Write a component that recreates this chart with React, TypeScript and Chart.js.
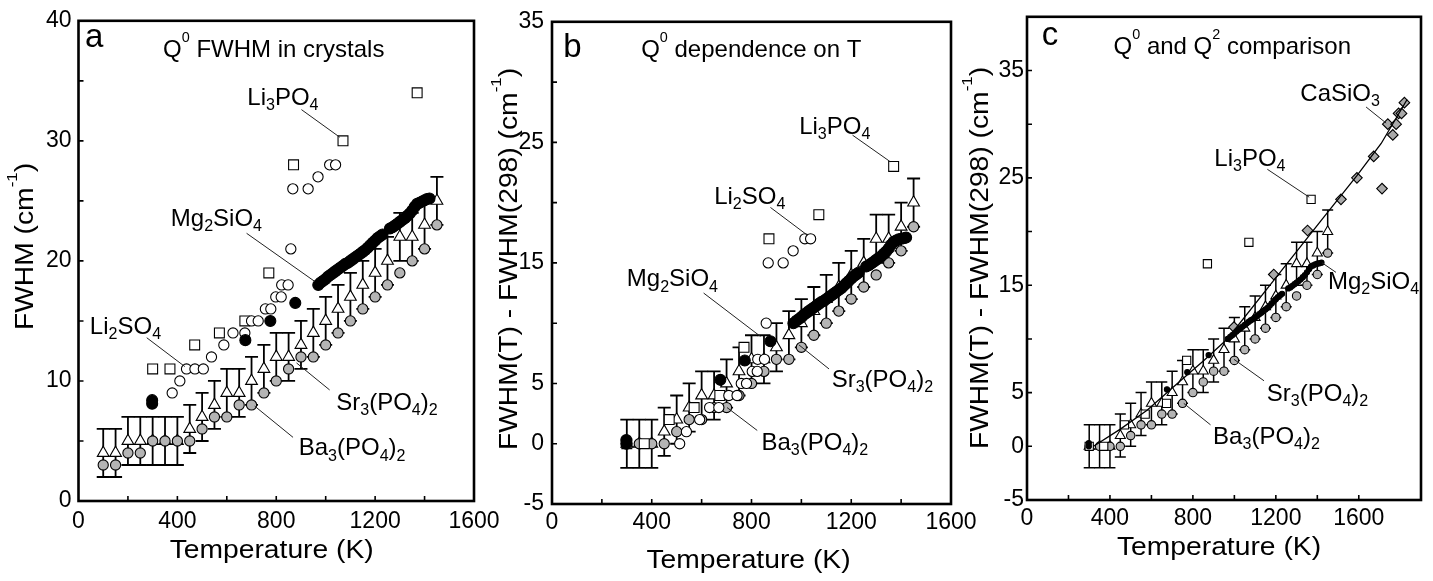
import { useEffect, useRef } from 'react';
import { Chart, registerables } from 'chart.js';

Chart.register(...registerables);

const FONT = '"Liberation Sans", Arial, Helvetica, sans-serif';
const PAGE_W = 1433;
const PAGE_H = 581;

// ================= DATA =================
// Panel a : absolute FWHM (cm-1)
const T_SR_BA = [100, 150, 200, 250, 300, 350, 400, 450, 500, 550, 600, 650, 700, 750, 800, 850, 900, 950, 1000, 1050, 1100, 1150, 1200, 1250, 1300, 1350, 1400, 1450];
const A_SR3PO42 = [4, 4, 5, 5, 5, 5, 5, 6, 7, 8, 9, 9, 10, 11, 12, 12, 13, 14, 15, 16, 17, 18, 19, 20, 22, 22, 23, 25];
const A_BA3PO42 = [3, 3, 4, 4, 5, 5, 5, 5, 6, 7, 7, 8, 8, 9, 10, 11, 12, 12, 13, 14, 15, 16, 17, 18, 19, 20, 21, 23];
const SR_ERROR = 2;

const T_LI3PO4 = [300, 370, 470, 570, 673, 770, 870, 1070, 1370];
const A_LI3PO4 = [11, 11, 13, 14, 15, 19, 28, 30, 34];

const A_T_LI2SO4 = [379, 410, 437, 471, 505, 538, 588, 625, 673, 700, 727, 756, 778, 798, 820, 822, 848, 859, 867, 929, 969, 1016, 1040];
const A_LI2SO4 = [9, 10, 11, 11, 11, 12, 13, 14, 14, 15, 15, 16, 16, 17, 17, 18, 18, 21, 26, 26, 27, 28, 28];

const A_T_MG2SIO4 = [298, 298, 675, 776, 877, 970, 980, 990, 1000, 1010, 1020, 1030, 1040, 1050, 1060, 1070, 1080, 1090, 1100, 1110, 1120, 1130, 1140, 1150, 1160, 1170, 1180, 1190, 1200, 1210, 1220, 1230, 1260, 1270, 1280, 1290, 1300, 1310, 1320, 1330, 1340, 1350, 1360, 1370, 1380, 1390, 1400, 1410, 1420];
const A_MG2SIO4 = [8.1, 8.4, 13.4, 15.0, 16.5, 18.0, 18.2, 18.35, 18.5, 18.7, 18.85, 19.0, 19.15, 19.3, 19.45, 19.6, 19.75, 19.85, 20.0, 20.15, 20.3, 20.45, 20.6, 20.75, 20.9, 21.1, 21.3, 21.5, 21.7, 21.9, 22.05, 22.2, 22.7, 22.8, 22.95, 23.1, 23.25, 23.4, 23.55, 23.75, 23.95, 24.2, 24.5, 24.75, 24.85, 24.95, 25.05, 25.15, 25.2];

// Panels b and c : FWHM(T) - FWHM(298)
const T_SR_BA_REL = [300, 350, 400, 450, 500, 550, 600, 650, 700, 750, 800, 850, 900, 950, 1000, 1050, 1100, 1150, 1200, 1250, 1300, 1350, 1400, 1450];
const B_SR3PO42 = [0, 0, 0, 1, 2, 3, 4, 4, 5, 6, 7, 7, 8, 9, 10, 11, 12, 13, 14, 15, 17, 17, 18, 20];
const B_BA3PO42 = [0, 0, 0, 0, 1, 2, 2, 3, 3, 4, 5, 6, 7, 7, 8, 9, 10, 11, 12, 13, 14, 15, 16, 18];
const B_LI3PO4 = [0, 0, 2, 3, 4, 8, 17, 19, 23];

const B_T_LI2SO4 = [512, 539, 592, 632, 669, 709, 742, 759, 780, 803, 823, 825, 852, 859, 867, 927, 967, 1014, 1037];
const B_LI2SO4 = [0, 1, 2, 3, 3, 4, 4, 5, 5, 6, 6, 7, 7, 10, 15, 15, 16, 17, 17];

const B_T_MG2SIO4 = [298, 298, 675, 773, 876, 968, 980, 990, 1000, 1010, 1020, 1030, 1040, 1050, 1060, 1070, 1080, 1090, 1100, 1110, 1120, 1130, 1140, 1150, 1160, 1170, 1180, 1190, 1200, 1210, 1220, 1230, 1260, 1270, 1280, 1290, 1300, 1310, 1320, 1330, 1340, 1350, 1360, 1370, 1380, 1390, 1400, 1410, 1420];
const B_MG2SIO4 = [0, 0.3, 5.3, 6.9, 8.5, 10.0, 10.2, 10.35, 10.5, 10.7, 10.85, 11.0, 11.15, 11.3, 11.45, 11.6, 11.75, 11.85, 12.0, 12.15, 12.3, 12.45, 12.6, 12.75, 12.9, 13.1, 13.3, 13.5, 13.7, 13.9, 14.05, 14.2, 14.7, 14.8, 14.95, 15.1, 15.25, 15.4, 15.55, 15.75, 15.95, 16.2, 16.5, 16.75, 16.85, 16.95, 17.0, 17.05, 17.1];

// Panel c : Q2 (CaSiO3) and its trend line
const C_T_CASIO3 = [998, 1190, 1353, 1514, 1591, 1672, 1712, 1740, 1764, 1780, 1792, 1806, 1820];
const C_CASIO3 = [11.1, 16.0, 20.1, 23.0, 25.0, 27.0, 24.0, 30.0, 29.0, 30.0, 31.0, 31.0, 32.0];
const C_T_FIT = [321, 450, 579, 740, 853, 966, 1188, 1417, 1591, 1708, 1833];
const C_FIT = [0, 1.6, 3.35, 6.1, 8.0, 10.0, 15.4, 21.0, 25.2, 28.2, 32.3];

// ================= HELPERS =================
type Seg = { t: string; k: 0 | 1 | 2 };
function parseRich(s: string): Seg[] {
  const segs: Seg[] = [];
  const re = /([_^])\{([^}]*)\}/g;
  let last = 0;
  let m: RegExpExecArray | null;
  while ((m = re.exec(s))) {
    if (m.index > last) segs.push({ t: s.slice(last, m.index), k: 0 });
    segs.push({ t: m[2], k: m[1] === '_' ? 1 : 2 });
    last = re.lastIndex;
  }
  if (last < s.length) segs.push({ t: s.slice(last), k: 0 });
  return segs;
}

function drawRich(ctx: CanvasRenderingContext2D, s: string, x: number, y: number, size: number, align: string, stretch: number, rot: number) {
  const segs = parseRich(s);
  const sz = (k: number) => (k === 0 ? size : k === 1 ? size * 0.67 : size * 0.6);
  let total = 0;
  const widths = segs.map((seg) => {
    ctx.font = `${sz(seg.k)}px ${FONT}`;
    const w = ctx.measureText(seg.t).width;
    total += w;
    return w;
  });
  ctx.save();
  ctx.translate(x, y);
  if (rot) ctx.rotate(rot);
  ctx.scale(stretch, 1);
  ctx.textAlign = 'left';
  ctx.textBaseline = 'alphabetic';
  ctx.fillStyle = '#000';
  let cx = align === 'center' ? -total / 2 : align === 'right' ? -total : 0;
  segs.forEach((seg, i) => {
    ctx.font = `${sz(seg.k)}px ${FONT}`;
    const dy = seg.k === 1 ? size * 0.22 : seg.k === 2 ? -size * 0.64 : 0;
    ctx.fillText(seg.t, cx, dy);
    cx += widths[i];
  });
  ctx.restore();
}

const pts = (xs: number[], ys: number[]) => xs.map((x, i) => ({ x, y: ys[i] }));

function marker(label: string, xs: number[], ys: number[], style: string, r: number, fill: string, order: number, extra: any = {}) {
  return {
    label,
    data: pts(xs, ys),
    pointStyle: style,
    pointRadius: r,
    pointBackgroundColor: fill,
    pointBorderColor: '#000',
    pointBorderWidth: 1.1,
    backgroundColor: fill,
    borderColor: '#000',
    order,
    ...extra,
  };
}

interface TextItem { text: string; x: number; y: number; size: number; align: string }
interface PanelSpec {
  id: string;
  area: { left: number; top: number; right: number; bottom: number };
  xMax: number; yMin: number; yMax: number;
  yShow: (v: number) => boolean;
  yTickPad: number; xTickPad: number;
  errWidth: number; capHalf: number;
  datasets: any[];
  texts: TextItem[];
  leaders: number[][];
  yTitle: string; yTitleX: number; yTitleY: number;
  xTitleX: number; xTitleY: number;
}

function decorPlugin(spec: PanelSpec) {
  return {
    id: 'decor_' + spec.id,
    beforeDatasetsDraw(chart: any) {
      const ctx: CanvasRenderingContext2D = chart.ctx;
      const xs = chart.scales.x;
      const ys = chart.scales.y;
      ctx.save();
      ctx.strokeStyle = '#000';
      ctx.lineWidth = spec.errWidth;
      chart.data.datasets.forEach((ds: any) => {
        if (!ds.errorBar) return;
        ds.data.forEach((p: { x: number; y: number }) => {
          const px = xs.getPixelForValue(p.x);
          const yt = ys.getPixelForValue(p.y + ds.errorBar);
          const yb = ys.getPixelForValue(p.y - ds.errorBar);
          const c = spec.capHalf;
          ctx.beginPath();
          ctx.moveTo(px, yt); ctx.lineTo(px, yb);
          ctx.moveTo(px - c, yt); ctx.lineTo(px + c, yt);
          ctx.moveTo(px - c, yb); ctx.lineTo(px + c, yb);
          ctx.stroke();
        });
      });
      ctx.restore();
    },
    afterDraw(chart: any) {
      const ctx: CanvasRenderingContext2D = chart.ctx;
      const xs = chart.scales.x;
      const ys = chart.scales.y;
      const { left, right, top, bottom } = chart.chartArea;
      ctx.save();
      ctx.strokeStyle = '#000';
      ctx.lineWidth = 1.6;
      ctx.beginPath();
      xs.ticks.forEach((t: any) => {
        const v = t.value;
        if (v % 200 !== 0 || v <= xs.min || v >= xs.max) return;
        const px = xs.getPixelForValue(v);
        ctx.moveTo(px, bottom); ctx.lineTo(px, bottom - 5);
      });
      ys.ticks.forEach((t: any) => {
        const v = t.value;
        if (v <= ys.min || v >= ys.max) return;
        const py = ys.getPixelForValue(v);
        ctx.moveTo(left, py); ctx.lineTo(left + 5, py);
      });
      ctx.stroke();
      ctx.lineWidth = 2.6;
      ctx.strokeRect(left, top, right - left, bottom - top);
      ctx.lineWidth = 1;
      ctx.strokeStyle = '#222';
      spec.leaders.forEach((l) => {
        ctx.beginPath();
        ctx.moveTo(xs.getPixelForValue(l[0]), ys.getPixelForValue(l[1]));
        ctx.lineTo(xs.getPixelForValue(l[2]), ys.getPixelForValue(l[3]));
        ctx.stroke();
      });
      spec.texts.forEach((t) => {
        drawRich(ctx, t.text, xs.getPixelForValue(t.x), ys.getPixelForValue(t.y), t.size, t.align, 1, 0);
      });
      drawRich(ctx, 'Temperature (K)', spec.xTitleX, spec.xTitleY, 25, 'center', 1.13, 0);
      drawRich(ctx, spec.yTitle, spec.yTitleX, spec.yTitleY, 25, 'center', 1.13, -Math.PI / 2);
      ctx.restore();
    },
  };
}

function buildChart(canvas: HTMLCanvasElement, spec: PanelSpec) {
  const a = spec.area;
  return new Chart(canvas, {
    type: 'scatter',
    data: { datasets: spec.datasets },
    options: {
      animation: false,
      responsive: false,
      devicePixelRatio: 1,
      events: [],
      layout: { padding: { left: 0, top: a.top, right: PAGE_W - a.right, bottom: 0 } },
      plugins: { legend: { display: false }, tooltip: { enabled: false } },
      scales: {
        x: {
          type: 'linear',
          min: 0,
          max: spec.xMax,
          afterFit: (s: any) => { s.height = PAGE_H - a.bottom; },
          grid: { display: false, drawTicks: false },
          border: { display: false },
          ticks: {
            stepSize: 200,
            autoSkip: false,
            maxRotation: 0,
            padding: spec.xTickPad,
            color: '#000',
            font: { family: FONT, size: 23 },
            callback: (v: any) => (Number(v) % 400 === 0 ? String(v) : ''),
          },
        },
        y: {
          type: 'linear',
          min: spec.yMin,
          max: spec.yMax,
          afterFit: (s: any) => { s.width = a.left; },
          grid: { display: false, drawTicks: false },
          border: { display: false },
          ticks: {
            stepSize: 5,
            autoSkip: false,
            padding: spec.yTickPad,
            color: '#000',
            font: { family: FONT, size: 23 },
            callback: (v: any) => (spec.yShow(Number(v)) ? String(v) : ''),
          },
        },
      },
    } as any,
    plugins: [decorPlugin(spec)],
  } as any);
}

const GREY = '#b4b4b4';
const GREY_DIA = '#a9a9a9';
const relShow = (v: number) => v === -5 || v === 0 || (v > 0 && v % 10 === 5);

const PANEL_A: PanelSpec = {
  id: 'a',
  area: { left: 78.5, top: 18, right: 474, bottom: 501 },
  xMax: 1600, yMin: 0, yMax: 40,
  yShow: (v) => v % 10 === 0,
  yTickPad: 7, xTickPad: 7,
  errWidth: 1.8, capHalf: 6.5,
  datasets: [
    marker('Mg2SiO4', A_T_MG2SIO4, A_MG2SIO4, 'circle', 5.5, '#000', 1),
    marker('Li2SO4', A_T_LI2SO4, A_LI2SO4, 'circle', 5.1, '#fff', 2),
    marker('Li3PO4', T_LI3PO4, A_LI3PO4, 'rect', 7, '#fff', 3),
    marker('Ba3(PO4)2', T_SR_BA, A_BA3PO42, 'circle', 5.1, GREY, 4),
    marker('Sr3(PO4)2', T_SR_BA, A_SR3PO42, 'triangle', 6.8, '#fff', 5, { errorBar: SR_ERROR }),
  ],
  texts: [
    { text: 'a', x: 26, y: 37.8, size: 33, align: 'left' },
    { text: 'Q^{0} FWHM in crystals', x: 790, y: 36.95, size: 24, align: 'center' },
    { text: 'Li_{3}PO_{4}', x: 827, y: 33.0, size: 24, align: 'center' },
    { text: 'Mg_{2}SiO_{4}', x: 558, y: 22.9, size: 24, align: 'center' },
    { text: 'Li_{2}SO_{4}', x: 190, y: 13.9, size: 24, align: 'center' },
    { text: 'Sr_{3}(PO_{4})_{2}', x: 1248, y: 7.6, size: 24, align: 'center' },
    { text: 'Ba_{3}(PO_{4})_{2}', x: 1107, y: 3.8, size: 24, align: 'center' },
  ],
  leaders: [
    [902, 32.6, 1057, 30.3],
    [680, 22.3, 955, 18.3],
    [276, 13.6, 430, 11.2],
    [1016, 9.25, 882, 11.5],
    [868, 5.3, 713, 7.9],
  ],
  yTitle: 'FWHM (cm^{-1})', yTitleX: 33, yTitleY: 246.5,
  xTitleX: 271.7, xTitleY: 558.3,
};

const PANEL_B: PanelSpec = {
  id: 'b',
  area: { left: 552, top: 21, right: 951, bottom: 504 },
  xMax: 1600, yMin: -5, yMax: 35,
  yShow: relShow,
  yTickPad: 8, xTickPad: 5,
  errWidth: 1.8, capHalf: 6.5,
  datasets: [
    marker('Mg2SiO4', B_T_MG2SIO4, B_MG2SIO4, 'circle', 5.5, '#000', 1),
    marker('Li2SO4', B_T_LI2SO4, B_LI2SO4, 'circle', 5.1, '#fff', 2),
    marker('Li3PO4', T_LI3PO4, B_LI3PO4, 'rect', 7, '#fff', 3),
    marker('Ba3(PO4)2', T_SR_BA_REL, B_BA3PO42, 'circle', 5.1, GREY, 4),
    marker('Sr3(PO4)2', T_SR_BA_REL, B_SR3PO42, 'triangle', 6.8, '#fff', 5, { errorBar: SR_ERROR }),
  ],
  texts: [
    { text: 'b', x: 45, y: 32.07, size: 33, align: 'left' },
    { text: 'Q^{0} dependence on T', x: 799, y: 32.07, size: 24, align: 'center' },
    { text: 'Li_{3}PO_{4}', x: 1134, y: 25.7, size: 24, align: 'center' },
    { text: 'Li_{2}SO_{4}', x: 793, y: 19.9, size: 24, align: 'center' },
    { text: 'Mg_{2}SiO_{4}', x: 483, y: 13.06, size: 24, align: 'center' },
    { text: 'Sr_{3}(PO_{4})_{2}', x: 1325, y: 4.72, size: 24, align: 'center' },
    { text: 'Ba_{3}(PO_{4})_{2}', x: 1054, y: -0.53, size: 24, align: 'center' },
  ],
  leaders: [
    [1205, 25.6, 1356, 23.4],
    [876, 19.6, 1024, 17.3],
    [608, 12.5, 836, 8.9],
    [1111, 6.2, 990, 8.2],
    [823, 1.1, 702, 3.0],
  ],
  yTitle: 'FWHM(T) - FWHM(298) (cm^{-1})', yTitleX: 517, yTitleY: 259,
  xTitleX: 748.5, xTitleY: 568,
};

const PANEL_C: PanelSpec = {
  id: 'c',
  area: { left: 1027, top: 15, right: 1421, bottom: 500 },
  xMax: 1900, yMin: -5, yMax: 40,
  yShow: relShow,
  yTickPad: 3, xTickPad: 5,
  errWidth: 1.5, capHalf: 5.5,
  datasets: [
    { label: 'trend', data: pts(C_T_FIT, C_FIT), showLine: true, pointRadius: 0, borderColor: '#000', borderWidth: 1.3, backgroundColor: '#000', fill: false, tension: 0, order: 0 },
    marker('Mg2SiO4', B_T_MG2SIO4, B_MG2SIO4, 'circle', 2.6, '#000', 1),
    marker('CaSiO3', C_T_CASIO3, C_CASIO3, 'rectRot', 5.3, GREY_DIA, 2),
    marker('Li3PO4', T_LI3PO4, B_LI3PO4, 'rect', 5.8, '#fff', 3),
    marker('Ba3(PO4)2', T_SR_BA_REL, B_BA3PO42, 'circle', 4.2, GREY, 4),
    marker('Sr3(PO4)2', T_SR_BA_REL, B_SR3PO42, 'triangle', 5.8, '#fff', 5, { errorBar: SR_ERROR }),
  ],
  texts: [
    { text: 'c', x: 71, y: 37.4, size: 33, align: 'left' },
    { text: 'Q^{0} and Q^{2} comparison', x: 990, y: 36.5, size: 24, align: 'center' },
    { text: 'CaSiO_{3}', x: 1510, y: 32.2, size: 24, align: 'center' },
    { text: 'Li_{3}PO_{4}', x: 1075, y: 26.1, size: 24, align: 'center' },
    { text: 'Mg_{2}SiO_{4}', x: 1671, y: 14.67, size: 24, align: 'center' },
    { text: 'Sr_{3}(PO_{4})_{2}', x: 1401, y: 4.2, size: 24, align: 'center' },
    { text: 'Ba_{3}(PO_{4})_{2}', x: 1155, y: 0.25, size: 24, align: 'center' },
  ],
  leaders: [
    [1635, 31.6, 1732, 30.1],
    [1159, 25.8, 1361, 23.2],
    [1422, 17.1, 1490, 16.2],
    [1143, 6.1, 998, 8.1],
    [885, 2.0, 756, 4.0],
  ],
  yTitle: 'FWHM(T) - FWHM(298) (cm^{-1})', yTitleX: 988, yTitleY: 258,
  xTitleX: 1219, xTitleY: 555,
};

export default function App() {
  const refA = useRef<HTMLCanvasElement>(null);
  const refB = useRef<HTMLCanvasElement>(null);
  const refC = useRef<HTMLCanvasElement>(null);

  useEffect(() => {
    const charts = [
      buildChart(refA.current as HTMLCanvasElement, PANEL_A),
      buildChart(refB.current as HTMLCanvasElement, PANEL_B),
      buildChart(refC.current as HTMLCanvasElement, PANEL_C),
    ];
    return () => charts.forEach((c) => c.destroy());
  }, []);

  const cs: any = { position: 'absolute', left: 0, top: 0, width: PAGE_W, height: PAGE_H };
  return (
    <div style={{ position: 'absolute', left: 0, top: 0, width: PAGE_W, height: PAGE_H, background: '#fff', overflow: 'hidden' }}>
      <canvas ref={refA} width={PAGE_W} height={PAGE_H} style={cs} />
      <canvas ref={refB} width={PAGE_W} height={PAGE_H} style={cs} />
      <canvas ref={refC} width={PAGE_W} height={PAGE_H} style={cs} />
    </div>
  );
}
